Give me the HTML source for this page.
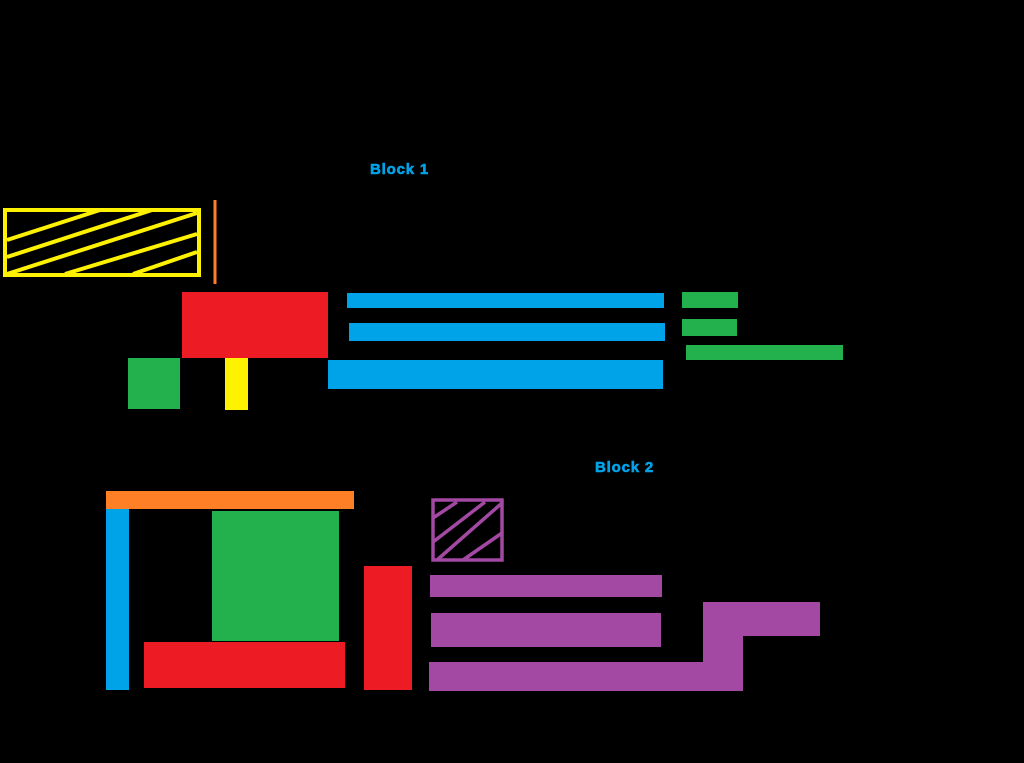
<!DOCTYPE html>
<html><head><style>
body{margin:0;background:#000;width:1024px;height:763px;overflow:hidden;position:relative;font-family:"Liberation Sans",sans-serif}
.r{position:absolute}
.t{position:absolute;color:#00a2e8;font-weight:bold;font-size:15px;letter-spacing:0.8px;-webkit-text-stroke:0.6px #00a2e8}
</style></head><body>
<div class="t" style="left:370px;top:161px">Block 1</div>
<div class="t" style="left:595px;top:459px">Block 2</div>
<svg class="r" style="left:0;top:0" width="1024" height="763">
<g stroke="#fff200" stroke-width="4" fill="none">
<rect x="5" y="210" width="194" height="65"/>
<line x1="7" y1="240" x2="100" y2="210"/>
<line x1="7" y1="257" x2="152" y2="210"/>
<line x1="7" y1="274" x2="197" y2="213"/>
<line x1="65" y1="274" x2="197" y2="234"/>
<line x1="133" y1="274" x2="197" y2="252"/>
</g>
<line x1="215" y1="200" x2="215" y2="284" stroke="#ff7f27" stroke-width="3"/>
<g stroke="#a349a4" stroke-width="3.5" fill="none">
<rect x="433" y="500" width="69" height="60"/>
<line x1="433" y1="518" x2="457" y2="502"/>
<line x1="433" y1="542" x2="485" y2="502"/>
<line x1="437" y1="560" x2="502" y2="503"/>
<line x1="463" y1="560" x2="502" y2="533"/>
</g>
<g fill="#ed1c24">
<rect x="182" y="292" width="146" height="66"/>
<rect x="144" y="642" width="201" height="46"/>
<rect x="364" y="566" width="48" height="124"/>
</g>
<g fill="#22b14c">
<rect x="128" y="358" width="52" height="51"/>
<rect x="682" y="292" width="56" height="16"/>
<rect x="682" y="319" width="55" height="17"/>
<rect x="686" y="345" width="157" height="15"/>
<rect x="212" y="511" width="127" height="130"/>
</g>
<rect x="225" y="358" width="23" height="52" fill="#fff200"/>
<g fill="#00a2e8">
<rect x="347" y="293" width="317" height="15"/>
<rect x="349" y="323" width="316" height="18"/>
<rect x="328" y="360" width="335" height="29"/>
<rect x="106" y="509" width="23" height="181"/>
</g>
<rect x="106" y="491" width="248" height="18" fill="#ff7f27"/>
<g fill="#a349a4">
<rect x="430" y="575" width="232" height="22"/>
<rect x="431" y="613" width="230" height="34"/>
<rect x="429" y="662" width="314" height="29"/>
<rect x="703" y="602" width="40" height="89"/>
<rect x="703" y="602" width="117" height="34"/>
</g>
</svg>
</body></html>
